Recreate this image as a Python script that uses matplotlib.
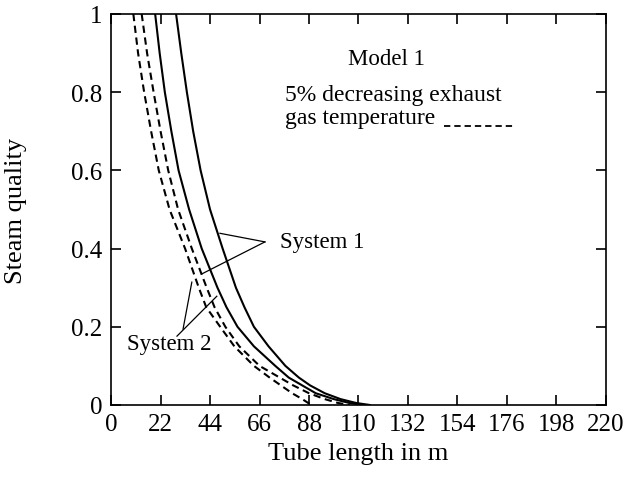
import matplotlib
matplotlib.use("Agg")
import matplotlib.pyplot as plt

# ---------------------------------------------------------------------------
# Data (tube length in m, steam quality)
# ---------------------------------------------------------------------------

sys1_len = [28.9, 31.2, 33.7, 36.5, 39.8, 44.0, 49.6, 55.5, 59.3, 63.5, 70.0, 77.5,
            83.5, 88.5, 95.0, 102.0, 109.0, 115.0]
sys1_q = [1.0, 0.9, 0.8, 0.7, 0.6, 0.5, 0.4, 0.3, 0.25, 0.2, 0.15, 0.1,
          0.07, 0.05, 0.03, 0.015, 0.005, 0.0]

sys2_len = [19.6, 21.6, 23.9, 26.8, 30.0, 34.7, 40.3, 47.3, 51.3, 56.2, 63.5, 73.0,
            79.0, 85.0, 91.0, 99.0, 106.0, 112.0]
sys2_q = [1.0, 0.9, 0.8, 0.7, 0.6, 0.5, 0.4, 0.3, 0.25, 0.2, 0.15, 0.1,
          0.07, 0.05, 0.03, 0.015, 0.005, 0.0]

sys1_dec_len = [13.6, 16.0, 18.9, 22.0, 25.4, 29.8, 35.9, 42.5, 46.0, 50.8, 57.0, 66.0,
                75.0, 81.0, 88.0, 95.0, 101.0, 106.0]
sys1_dec_q = [1.0, 0.9, 0.8, 0.7, 0.6, 0.5, 0.4, 0.3, 0.25, 0.2, 0.15, 0.1,
              0.07, 0.05, 0.03, 0.015, 0.005, 0.0]

sys2_dec_len = [9.9, 12.0, 14.7, 17.8, 21.2, 26.0, 32.9, 39.0, 42.3, 48.5, 54.8, 63.5,
                70.5, 75.5, 80.5, 85.0, 89.0]
sys2_dec_q = [1.0, 0.9, 0.8, 0.7, 0.6, 0.5, 0.4, 0.3, 0.25, 0.2, 0.15, 0.1,
              0.07, 0.05, 0.03, 0.015, 0.0]

x_ticks = list(range(0, 221, 22))
y_ticks = [0, 0.2, 0.4, 0.6, 0.8, 1]
y_tick_labels = ["0", "0.2", "0.4", "0.6", "0.8", "1"]

plt.rcParams["font.family"] = ["Liberation Serif", "DejaVu Serif"]
plt.rcParams["font.size"] = 18

fig = plt.figure(figsize=(6.24, 4.81), dpi=100)
ax = fig.add_axes([0.178, 0.156, 0.793, 0.813])

dash = (0, (3.5, 2.2))
ax.plot(sys1_len, sys1_q, "-", color="black", lw=1.5)
ax.plot(sys2_len, sys2_q, "-", color="black", lw=1.5)
ax.plot(sys1_dec_len, sys1_dec_q, color="black", lw=1.5, linestyle=dash)
ax.plot(sys2_dec_len, sys2_dec_q, color="black", lw=1.5, linestyle=dash)

ax.set_xlim(0, 220)
ax.set_ylim(0, 1)
ax.set_xticks(x_ticks)
ax.set_yticks(y_ticks)
ax.set_yticklabels(y_tick_labels)
ax.tick_params(direction="in", length=7, width=1.2, top=True, right=True, pad=6)
for s in ax.spines.values():
    s.set_linewidth(1.2)

ax.set_xlabel("Tube length in m", fontsize=19, labelpad=5)
ax.set_ylabel("Steam quality", fontsize=19, labelpad=32)

# annotations
ax.text(122.4, 0.885, "Model 1", ha="center", va="center", fontsize=16.5)
ax.text(77.3, 0.795, "5% decreasing exhaust", ha="left", va="center", fontsize=17)
ax.text(77.3, 0.736, "gas temperature", ha="left", va="center", fontsize=17)
ax.plot([148.0, 179.0], [0.713, 0.713], color="black", lw=1.3, linestyle=dash)

ax.text(75.1, 0.417, "System 1", ha="left", va="center", fontsize=16.5)
ax.plot([68.4, 48.4], [0.417, 0.439], color="black", lw=0.9)
ax.plot([68.4, 40.3], [0.417, 0.335], color="black", lw=0.9)

ax.text(25.8, 0.156, "System 2", ha="center", va="center", fontsize=16.5)
ax.plot([32.0, 35.9], [0.194, 0.314], color="black", lw=0.9)
ax.plot([29.3, 47.0], [0.176, 0.278], color="black", lw=0.9)

fig.savefig("out.png", dpi=100)
